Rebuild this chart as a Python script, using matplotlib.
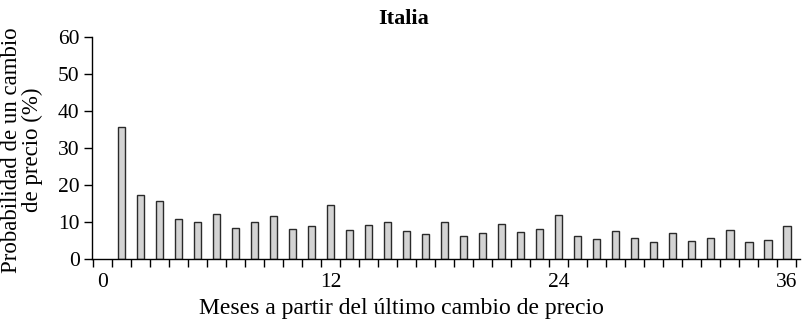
import matplotlib.pyplot as plt
import numpy as np

months = np.arange(1, 37)
prob = [35.8, 17.4, 15.6, 10.9, 10.1, 12.2, 8.5, 9.9, 11.7, 8.1, 8.8, 14.5,
        7.9, 9.1, 9.9, 7.6, 6.9, 10.1, 6.1, 7.1, 9.4, 7.3, 8.2, 11.9,
        6.3, 5.4, 7.7, 5.7, 4.5, 7.1, 5.0, 5.7, 7.9, 4.7, 5.1, 8.9]
xticks = [0, 12, 24, 36]
yticks = [0, 10, 20, 30, 40, 50, 60]

plt.rcParams['font.family'] = ['Liberation Serif', 'DejaVu Serif']


def main():
    fig = plt.figure(figsize=(8.08, 3.21), dpi=100)
    ax = fig.add_axes([0.1139, 0.193, 0.876, 0.6916])

    ax.bar(months, prob, width=0.4, color='#d3d3d3', edgecolor='#2a2a2a',
           linewidth=1.0)

    ax.set_xlim(-0.55, 36.69)
    ax.set_ylim(0, 60)
    ax.spines['top'].set_visible(False)
    ax.spines['right'].set_visible(False)
    ax.spines['left'].set_linewidth(1.0)
    ax.spines['bottom'].set_linewidth(1.0)

    ax.set_yticks(yticks)
    ax.set_xticks(xticks)
    ax.set_xticks(np.arange(-0.5, 37, 1.0), minor=True)
    ax.tick_params(axis='x', which='major', length=0, pad=10, labelsize=15.5)
    ax.tick_params(axis='x', which='minor', length=6, width=1.0,
                   direction='out')
    ax.tick_params(axis='y', length=6, width=1.0, labelsize=15.5, pad=3)

    # title sits left of the axes centre in the original
    fig.text(404 / 808, 1 - 19 / 321, 'Italia', fontsize=16,
             fontweight='bold', ha='center', va='center')
    fig.text(401 / 808, 1 - 314 / 321,
             'Meses a partir del último cambio de precio', fontsize=17,
             ha='center', va='baseline')
    fig.text(22 / 808, 1 - 150 / 321, 'Probabilidad de un cambio\nde precio (%)',
             fontsize=16.5, rotation=90, ha='center', va='center',
             multialignment='center', linespacing=1.0)

    fig.savefig('out.png', dpi=100)


if __name__ == "__main__":
    main()
